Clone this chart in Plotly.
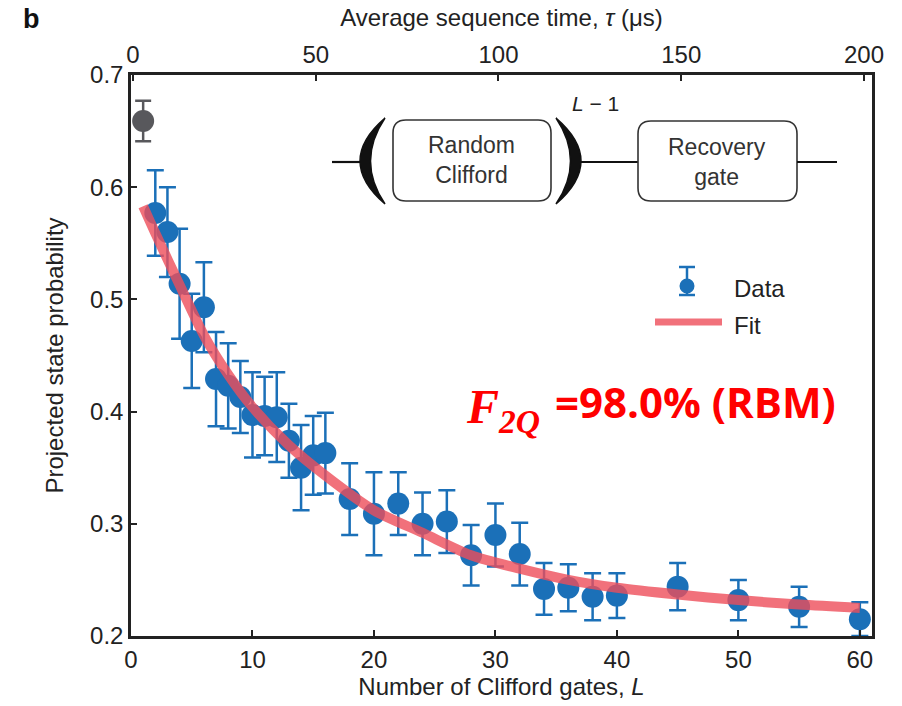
import plotly.graph_objects as go

# ---------------- data ----------------
L_data = [2, 3, 4, 5, 6, 7, 8, 9, 10, 11, 12, 13, 14, 15, 16,
          18, 20, 22, 24, 26, 28, 30, 32, 34, 36, 38, 40, 45, 50, 55, 60]
P_data = [0.577, 0.560, 0.514, 0.463, 0.493, 0.429, 0.423, 0.413, 0.397, 0.396,
          0.395, 0.374, 0.350, 0.361, 0.363, 0.322, 0.309, 0.318, 0.300, 0.302,
          0.272, 0.290, 0.273, 0.242, 0.243, 0.235, 0.236, 0.244, 0.232, 0.226, 0.215]
P_err = [0.038, 0.040, 0.049, 0.042, 0.040, 0.042, 0.038, 0.032, 0.038, 0.035,
         0.040, 0.033, 0.038, 0.035, 0.036, 0.032, 0.037, 0.028, 0.028, 0.028,
         0.027, 0.028, 0.028, 0.023, 0.021, 0.021, 0.020, 0.021, 0.018, 0.018, 0.015]

L_ref = [1]
P_ref = [0.659]
P_ref_err = [0.018]

fit_L = [1, 2, 4, 6, 8, 10, 13, 16, 20, 24, 28, 32, 36, 40, 45, 50, 55, 60]
fit_P = [0.583, 0.559, 0.513, 0.468, 0.433, 0.404, 0.370, 0.343, 0.312, 0.292,
         0.272, 0.260, 0.250, 0.243, 0.237, 0.232, 0.228, 0.225]

x_ticks = [0, 10, 20, 30, 40, 50, 60]
tau_ticks = [0, 50, 100, 150, 200]
y_ticks = [0.2, 0.3, 0.4, 0.5, 0.6, 0.7]
y_ticktext = ["0.2", "0.3", "0.4", "0.5", "0.6", "0.7"]

# ---------------- style ----------------
BLUE = "#1B70B8"
GREY = "#58585C"
RED = "rgba(238,78,90,0.8)"
AX = "#222222"
FONT = "Liberation Sans, Arial, sans-serif"
TXT = "#222222"

W, H = 902, 706
ML, MR, MT, MB = 131, 30, 75, 70
PW, PH = W - ML - MR, H - MT - MB


def px(x):
    return (x - ML) / PW


def py(y):
    return (H - MB - y) / PH


fig = go.Figure()

fig.add_trace(go.Scatter(
    x=L_ref, y=P_ref, mode="markers",
    marker=dict(size=22, color=GREY),
    error_y=dict(type="data", array=P_ref_err, color=GREY, thickness=2.5, width=8),
    showlegend=False, cliponaxis=False, hoverinfo="skip"))

fig.add_trace(go.Scatter(
    x=L_data, y=P_data, mode="markers", name="Data",
    marker=dict(size=22, color=BLUE),
    error_y=dict(type="data", array=P_err, color=BLUE, thickness=2.5, width=8.5),
    showlegend=False, cliponaxis=False))

fig.add_trace(go.Scatter(
    x=fit_L, y=fit_P, mode="lines", name="Fit",
    line=dict(color=RED, width=10, shape="spline", smoothing=0.8),
    showlegend=False))

# dummy trace for the top axis
fig.add_trace(go.Scatter(x=tau_ticks, y=[0.45] * len(tau_ticks), xaxis="x2",
                         mode="markers", marker=dict(opacity=0),
                         showlegend=False, hoverinfo="skip"))

shapes = []
annotations = []

# --- manual legend ---
lx = 687
shapes.append(dict(type="line", xref="paper", yref="paper",
                   x0=px(lx), x1=px(lx), y0=py(267), y1=py(295),
                   line=dict(color=BLUE, width=2.5)))
for yy in (267, 295):
    shapes.append(dict(type="line", xref="paper", yref="paper",
                       x0=px(lx - 8), x1=px(lx + 8), y0=py(yy), y1=py(yy),
                       line=dict(color=BLUE, width=2.5)))
shapes.append(dict(type="circle", xref="paper", yref="paper",
                   x0=px(lx - 7.5), x1=px(lx + 7.5), y0=py(278.5), y1=py(293.5),
                   fillcolor=BLUE, line=dict(width=0)))
shapes.append(dict(type="line", xref="paper", yref="paper",
                   x0=px(655), x1=px(722), y0=py(322), y1=py(322),
                   line=dict(color=RED, width=7)))
annotations.append(dict(text="Data", xref="paper", yref="paper", x=px(732), y=py(288),
                        xanchor="left", yanchor="middle", showarrow=False,
                        font=dict(family=FONT, size=24, color=TXT)))
annotations.append(dict(text="Fit", xref="paper", yref="paper", x=px(732), y=py(325),
                        xanchor="left", yanchor="middle", showarrow=False,
                        font=dict(family=FONT, size=24, color=TXT)))

# --- circuit diagram ---
LINE_Y = 162


def hline(x0, x1, y, w=2.2):
    shapes.append(dict(type="line", xref="paper", yref="paper",
                       x0=px(x0), x1=px(x1), y0=py(y), y1=py(y),
                       line=dict(color="#111", width=w)))


def rbox(x0, y0, x1, y1, r=13):
    p = (f"M {px(x0 + r)},{py(y0)} L {px(x1 - r)},{py(y0)} "
         f"Q {px(x1)},{py(y0)} {px(x1)},{py(y0 + r)} "
         f"L {px(x1)},{py(y1 - r)} Q {px(x1)},{py(y1)} {px(x1 - r)},{py(y1)} "
         f"L {px(x0 + r)},{py(y1)} Q {px(x0)},{py(y1)} {px(x0)},{py(y1 - r)} "
         f"L {px(x0)},{py(y0 + r)} Q {px(x0)},{py(y0)} {px(x0 + r)},{py(y0)} Z")
    shapes.append(dict(type="path", xref="paper", yref="paper", path=p,
                       line=dict(color="#333", width=1.6), fillcolor="rgba(0,0,0,0)"))


def paren(xtip, ytop, ybot, c_out, c_in):
    ym = (ytop + ybot) / 2
    p = (f"M {px(xtip)},{py(ytop)} Q {px(c_out)},{py(ym)} {px(xtip)},{py(ybot)} "
         f"Q {px(c_in)},{py(ym)} {px(xtip)},{py(ytop)} Z")
    shapes.append(dict(type="path", xref="paper", yref="paper", path=p,
                       line=dict(color="#111", width=1.5), fillcolor="#111"))


hline(332, 362, LINE_Y)
paren(385, 118, 204, 335, 356)
rbox(393, 120, 551, 201)
paren(556, 118, 204, 606, 585)
hline(578, 638, LINE_Y)
rbox(638, 121, 797, 201)
hline(797, 837, LINE_Y)

annotations.append(dict(text="Random<br>Clifford", xref="paper", yref="paper",
                        x=px(471), y=py(160), xanchor="center", yanchor="middle",
                        showarrow=False, font=dict(family=FONT, size=23, color="#333")))
annotations.append(dict(text="Recovery<br>gate", xref="paper", yref="paper",
                        x=px(717), y=py(162), xanchor="center", yanchor="middle",
                        showarrow=False, font=dict(family=FONT, size=23, color="#333")))
annotations.append(dict(text="<i>L</i> − 1", xref="paper", yref="paper",
                        x=px(595), y=py(104), xanchor="center", yanchor="middle",
                        showarrow=False, font=dict(family=FONT, size=21, color=TXT)))

# --- fidelity text ---
annotations.append(dict(text="<b><i>F</i></b><sub><b><i>2Q</i></b></sub>",
                        xref="paper", yref="paper", x=px(542), y=py(410),
                        xanchor="right", yanchor="middle", showarrow=False,
                        font=dict(family="Liberation Serif, serif", size=48, color="#FF0000")))
annotations.append(dict(text="<b>=98.0% (RBM)</b>", xref="paper", yref="paper",
                        x=px(553), y=py(401), xanchor="left", yanchor="middle",
                        showarrow=False,
                        font=dict(family="Open Sans, sans-serif", size=42, color="#FF0000")))

# --- panel label ---
annotations.append(dict(text="<b>b</b>", xref="paper", yref="paper",
                        x=px(32), y=py(19), xanchor="center", yanchor="middle",
                        showarrow=False, font=dict(family=FONT, size=27, color="#111")))

axis_common = dict(showline=True, linecolor=AX, linewidth=2.5, ticks="inside",
                   ticklen=6, tickwidth=1.5, tickcolor=AX, showgrid=False,
                   zeroline=False, automargin=False,
                   tickfont=dict(family=FONT, size=24, color=TXT))
title_font = dict(family=FONT, size=24, color=TXT)

fig.update_layout(
    width=W, height=H,
    margin=dict(l=ML, r=MR, t=MT, b=MB, pad=0),
    paper_bgcolor="white", plot_bgcolor="white",
    showlegend=False,
    xaxis=dict(range=[0, 61], tickvals=x_ticks,
               title=dict(text="Number of Clifford gates, <i>L</i>", standoff=6,
                          font=title_font),
               **axis_common),
    xaxis2=dict(range=[-0.55, 202.2], tickvals=tau_ticks, overlaying="x",
                side="top", anchor="y",
                title=dict(text="Average sequence time, <i>τ</i> (μs)", standoff=8,
                           font=title_font),
                **axis_common),
    yaxis=dict(range=[0.2, 0.7], tickvals=y_ticks, ticktext=y_ticktext,
               mirror=True,
               title=dict(text="Projected state probability", standoff=20,
                          font=title_font),
               **axis_common),
    shapes=shapes,
    annotations=annotations,
)

fig.write_html("out.html")
